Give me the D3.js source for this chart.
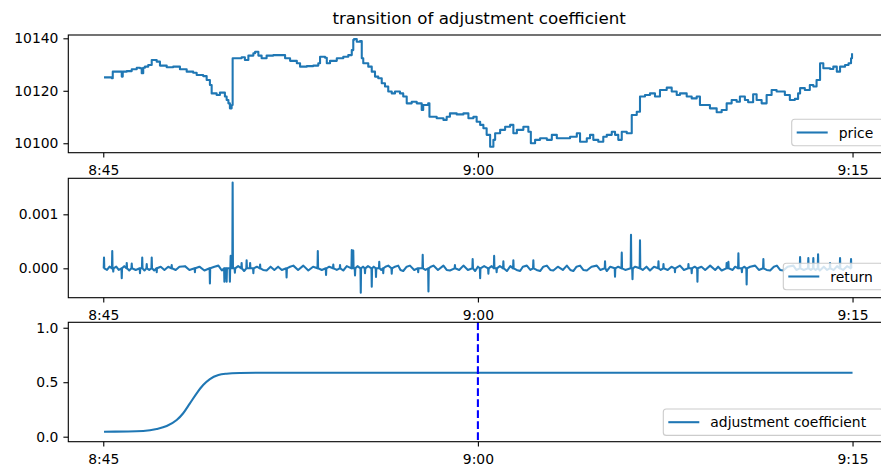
<!DOCTYPE html>
<html lang="en">
<head>
<meta charset="UTF-8" />
<title>transition of adjustment coefficient</title>
<script src="https://cdn.jsdelivr.net/npm/d3@7"></script>
<style>
  body { margin: 0; background: #fff; }
  svg { display: block; font-family: "DejaVu Sans", sans-serif; }
</style>
</head>
<body>
<svg id="vis" width="881" height="469"></svg>
<script>
// x axis: minutes after 8:45
const tickMinutes = [0, 15, 30];
const tickLabels = ["8:45", "9:00", "9:15"];

// price
const priceMinute = [
  0.03, 0.34, 0.38, 0.70, 0.74, 0.78, 0.94, 1.14, 1.34, 1.47, 1.54, 1.60, 1.67, 1.80, 1.94, 2.14, 2.27, 2.54, 2.80, 3.07,
  3.34, 3.60, 3.74, 4.00, 4.14, 4.27, 4.34, 4.54, 4.67, 4.81, 4.87, 4.94, 5.01, 5.07, 5.14, 5.18, 5.34, 5.54, 5.67, 5.81,
  6.01, 6.08, 6.21, 6.34, 6.54, 6.81, 7.08, 7.28, 7.48, 7.75, 7.88, 8.15, 8.41, 8.61, 8.68, 8.88, 8.95, 9.08, 9.35, 9.61,
  9.81, 9.95, 10.01, 10.04, 10.15, 10.28, 10.35, 10.41, 10.61, 10.75, 10.88, 11.01, 11.15, 11.28, 11.41, 11.55, 11.68, 11.88, 12.01, 12.15,
  12.35, 12.55, 12.75, 12.81, 13.01, 13.06, 13.35, 13.62, 13.75, 13.88, 14.15, 14.42, 14.62, 14.82, 14.95, 15.09, 15.22, 15.35, 15.49, 15.62,
  15.69, 15.89, 16.09, 16.29, 16.42, 16.56, 16.82, 17.02, 17.12, 17.29, 17.49, 17.76, 17.96, 18.16, 18.42, 18.69, 18.96, 19.09, 19.36, 19.49,
  19.62, 19.82, 20.02, 20.16, 20.36, 20.49, 20.62, 20.76, 20.96, 21.09, 21.16, 21.36, 21.49, 21.69, 21.89, 22.09, 22.29, 22.56, 22.76, 22.96,
  23.09, 23.36, 23.56, 23.76, 23.89, 24.09, 24.29, 24.56, 24.76, 24.96, 25.16, 25.36, 25.49, 25.69, 25.82, 26.02, 26.16, 26.36, 26.56, 26.76,
  26.96, 27.16, 27.29, 27.49, 27.69, 27.82, 27.90, 28.09, 28.29, 28.43, 28.56, 28.70, 28.83, 29.10, 29.23, 29.37, 29.50, 29.70, 29.84, 29.94,
  29.98
];
const price = [
  10125.1, 10124.8, 10127.3, 10127.3, 10125.4, 10127.3, 10127.5, 10128.2, 10128.8, 10128.6, 10126.7, 10128.8, 10129.2, 10129.8, 10131.7, 10131.1, 10129.6, 10129.0, 10129.2, 10128.2,
  10127.3, 10126.9, 10126.0, 10125.6, 10124.1, 10122.2, 10119.0, 10118.4, 10119.3, 10119.3, 10117.8, 10116.5, 10115.2, 10113.3, 10114.6, 10132.4, 10132.4, 10132.8, 10131.7, 10133.4,
  10134.3, 10134.9, 10133.4, 10132.4, 10133.4, 10133.6, 10133.6, 10132.4, 10131.4, 10130.5, 10129.2, 10129.4, 10129.6, 10130.5, 10133.0, 10132.6, 10130.5, 10131.4, 10132.4, 10133.0,
  10133.6, 10135.5, 10139.4, 10139.7, 10138.7, 10139.0, 10132.4, 10130.5, 10129.2, 10127.3, 10125.4, 10124.8, 10122.9, 10121.6, 10119.7, 10119.0, 10119.7, 10119.0, 10117.8, 10115.2,
  10115.8, 10115.2, 10112.7, 10114.6, 10115.2, 10110.1, 10109.5, 10108.9, 10110.1, 10111.4, 10111.0, 10111.4, 10109.5, 10110.1, 10108.2, 10107.0, 10105.7, 10103.2, 10098.7, 10101.3,
  10103.8, 10105.1, 10106.3, 10107.0, 10103.8, 10105.1, 10106.3, 10104.4, 10100.0, 10101.3, 10101.9, 10101.3, 10103.2, 10101.9, 10101.9, 10102.5, 10103.8, 10100.6, 10101.9, 10103.2,
  10101.3, 10100.6, 10102.5, 10103.2, 10104.4, 10103.2, 10101.3, 10104.4, 10103.8, 10103.8, 10110.8, 10112.0, 10117.8, 10118.4, 10119.0, 10117.8, 10120.3, 10121.2, 10119.7, 10118.4,
  10119.0, 10117.8, 10117.1, 10117.8, 10114.6, 10114.6, 10113.3, 10111.8, 10112.7, 10115.2, 10116.5, 10115.8, 10117.8, 10116.5, 10115.6, 10118.7, 10116.5, 10115.2, 10118.4, 10120.3,
  10119.7, 10119.7, 10118.4, 10116.5, 10116.9, 10119.0, 10121.0, 10120.3, 10122.2, 10121.6, 10124.1, 10130.5, 10128.6, 10128.3, 10129.2, 10127.3, 10129.2, 10129.8, 10130.5, 10132.4,
  10134.3
];

// return (middle panel)
const retMinute = [
  0.03, 0.15, 0.25, 0.36, 0.40, 0.52, 0.62, 0.74, 0.84, 0.94, 1.04, 1.14, 1.30, 1.47, 1.56, 1.65, 1.74, 1.84, 1.94, 2.04,
  2.14, 2.30, 2.45, 2.60, 2.74, 2.90, 3.05, 3.27, 3.45, 3.67, 3.85, 4.05, 4.27, 4.45, 4.61, 4.75, 4.85, 4.94, 5.07, 5.10,
  5.18, 5.27, 5.40, 5.54, 5.64, 5.74, 5.88, 6.01, 6.15, 6.28, 6.40, 6.54, 6.70, 6.85, 7.00, 7.15, 7.34, 7.48, 7.61, 7.80,
  8.01, 8.21, 8.40, 8.59, 8.75, 8.92, 9.05, 9.21, 9.35, 9.48, 9.61, 9.75, 9.95, 10.01, 10.08, 10.18, 10.31, 10.40, 10.48, 10.60,
  10.75, 10.83, 10.92, 11.05, 11.13, 11.21, 11.30, 11.41, 11.55, 11.68, 11.81, 11.90, 12.01, 12.15, 12.28, 12.45, 12.61, 12.79, 12.90, 13.02,
  13.12, 13.22, 13.40, 13.62, 13.75, 13.88, 14.08, 14.25, 14.42, 14.60, 14.79, 14.89, 15.00, 15.09, 15.25, 15.42, 15.55, 15.65, 15.75, 15.88,
  16.02, 16.16, 16.30, 16.42, 16.55, 16.69, 16.80, 16.96, 17.10, 17.22, 17.35, 17.49, 17.62, 17.76, 17.90, 18.02, 18.20, 18.40, 18.56, 18.70,
  18.82, 18.95, 19.09, 19.22, 19.36, 19.55, 19.76, 19.90, 20.09, 20.16, 20.30, 20.49, 20.62, 20.76, 20.90, 21.13, 21.19, 21.30, 21.49, 21.60,
  21.75, 21.89, 22.05, 22.23, 22.32, 22.43, 22.60, 22.75, 22.89, 23.09, 23.25, 23.43, 23.56, 23.68, 23.79, 23.95, 24.10, 24.30, 24.50, 24.62,
  24.76, 24.96, 25.03, 25.20, 25.30, 25.43, 25.57, 25.66, 25.76, 25.90, 26.10, 26.25, 26.43, 26.56, 26.70, 26.85, 26.97, 27.10, 27.23, 27.40,
  27.63, 27.75, 27.90, 28.05, 28.23, 28.33, 28.43, 28.52, 28.62, 28.69, 28.85, 28.98, 29.10, 29.25, 29.38, 29.50, 29.62, 29.78, 29.94
];
const retValue = [
  2.0e-4, -0.3e-4, 0.3e-4, 3.2e-4, -0.6e-4, 0.3e-4, -0.3e-4, -1.85e-4, 0.4e-4, 1.0e-4, -0.4e-4, 0.9e-4, -0.3e-4, -0.9e-4, 2.0e-4, -0.4e-4, 0.8e-4, -0.3e-4, 2.0e-4, -0.4e-4,
  -0.7e-4, 0.3e-4, -0.3e-4, 0.3e-4, 0.6e-4, -0.3e-4, 0.3e-4, 0.4e-4, -0.3e-4, -0.7e-4, 0.3e-4, -0.4e-4, -2.8e-4, 0.3e-4, 0.5e-4, -0.4e-4, -2.5e-4, -2.5e-4, -2.5e-4, 2.3e-4,
  15.9e-4, -0.8e-4, 0.4e-4, 1.0e-4, -0.5e-4, 1.5e-4, 1.0e-4, -0.9e-4, 0.3e-4, 0.7e-4, -0.3e-4, -0.4e-4, 0.3e-4, -0.3e-4, 0.3e-4, -0.3e-4, -1.7e-4, 0.3e-4, 0.5e-4, -0.3e-4,
  0.5e-4, -0.4e-4, 0.3e-4, 3.2e-4, -0.3e-4, -1.25e-4, 0.3e-4, 0.7e-4, -0.3e-4, 0.6e-4, -0.4e-4, 0.4e-4, 3.4e-4, 3.3e-4, -1.3e-4, 0.4e-4, -4.5e-4, 0.3e-4, -0.9e-4, 0.4e-4,
  -3.4e-4, 0.3e-4, -1.6e-4, 1.2e-4, -0.3e-4, -0.9e-4, 0.3e-4, 0.5e-4, -1.0e-4, 0.3e-4, 0.5e-4, -0.3e-4, -0.5e-4, 0.3e-4, 0.5e-4, -0.3e-4, -0.7e-4, 2.5e-4, -0.3e-4, -4.3e-4,
  0.3e-4, 0.5e-4, -0.3e-4, 0.5e-4, -0.3e-4, -0.4e-4, 0.6e-4, -0.3e-4, 0.5e-4, -0.3e-4, 1.7e-4, -0.5e-4, 0.3e-4, -1.85e-4, 0.4e-4, -1.0e-4, 0.4e-4, 2.3e-4, -0.7e-4, 0.4e-4,
  1.3e-4, -0.5e-4, 0.4e-4, 1.5e-4, -0.3e-4, -0.5e-4, 0.3e-4, 0.5e-4, -0.3e-4, 1.5e-4, -0.3e-4, -0.5e-4, 0.3e-4, 0.5e-4, -0.3e-4, -0.4e-4, 0.3e-4, -0.3e-4, 0.5e-4, -0.3e-4,
  -0.5e-4, 0.3e-4, 0.5e-4, -0.3e-4, -0.4e-4, 0.3e-4, 0.5e-4, -0.3e-4, 1.3e-4, -0.5e-4, 0.3e-4, -1.55e-4, 0.3e-4, 2.9e-4, -0.3e-4, 6.2e-4, -2.0e-4, 0.3e-4, 5.2e-4, -0.3e-4,
  0.3e-4, -0.4e-4, 0.3e-4, 1.3e-4, -0.3e-4, 0.8e-4, -0.3e-4, 0.3e-4, -0.7e-4, 0.5e-4, -0.3e-4, 0.8e-4, -0.9e-4, 0.3e-4, -2.5e-4, 0.3e-4, -0.3e-4, 0.5e-4, -0.3e-4, 0.3e-4,
  -0.4e-4, 1.0e-4, 1.2e-4, -0.3e-4, 0.3e-4, 2.8e-4, -0.7e-4, 0.3e-4, -3.0e-4, 0.3e-4, 0.5e-4, -0.3e-4, 1.7e-4, -0.3e-4, -0.4e-4, 0.3e-4, 0.5e-4, -0.3e-4, -0.4e-4, 0.3e-4,
  0.5e-4, -0.3e-4, 2.1e-4, -0.3e-4, 1.9e-4, -0.3e-4, 1.9e-4, -0.3e-4, 2.6e-4, -0.4e-4, 0.3e-4, -0.3e-4, 1.0e-4, -0.3e-4, 0.4e-4, 1.9e-4, -0.3e-4, 0.4e-4, 1.7e-4
];

// adjustment coefficient (bottom panel)
const adjMinute = [0.03, 1.0, 1.6, 2.14, 2.54, 2.94, 3.20, 3.47, 3.74, 4.00, 4.27, 4.61, 4.94, 5.47, 6.5, 10, 20, 30];
const adjValue = [0.046, 0.047, 0.052, 0.071, 0.098, 0.153, 0.215, 0.306, 0.398, 0.474, 0.529, 0.566, 0.578, 0.584, 0.587, 0.587, 0.587, 0.587];
const markerMinute = 15;

const blue = "#1f77b4";
const fontSize = 13.9;
const left = 68.3, right = 890;

let svg = d3.select("#vis");

let scaleX = d3.scaleLinear().domain([-1.4, 31.5]).range([left, right]);

svg.append("text")
  .attr("x", (left + right) / 2)
  .attr("y", 24)
  .attr("text-anchor", "middle")
  .attr("font-size", 16.7)
  .text("transition of adjustment coefficient");

// one panel = axes + ticks, returns its y scale
function panel(top, bottom, domain, ticks, fmt) {
  let scaleY = d3.scaleLinear().domain(domain).range([bottom, top]);
  let g = svg.append("g");

  let xAxis = d3.axisBottom(scaleX).tickValues(tickMinutes)
    .tickFormat((d, i) => tickLabels[i]).tickSize(4.9).tickPadding(8);
  let yAxis = d3.axisLeft(scaleY).tickValues(ticks).tickFormat(fmt)
    .tickSize(4.9).tickPadding(5);

  let gx = g.append("g").attr("transform", `translate(0,${bottom})`).call(xAxis);
  let gy = g.append("g").attr("transform", `translate(${left},0)`).call(yAxis);
  for (let a of [gx, gy]) {
    a.select(".domain").remove();
    a.attr("font-family", null).attr("font-size", fontSize);
    a.selectAll("line").attr("stroke", "#000").attr("stroke-width", 1.1);
    a.selectAll("text").attr("fill", "#000");
  }
  return { g, scaleY, top, bottom };
}

function frame(p) {
  p.g.append("rect")
    .attr("x", left).attr("y", p.top)
    .attr("width", right - left).attr("height", p.bottom - p.top)
    .attr("fill", "none").attr("stroke", "#000").attr("stroke-width", 1.1);
}

function legend(p, x, y, label) {
  let h = 26.4;
  let lg = p.g.append("g");
  lg.append("rect")
    .attr("x", x).attr("y", y).attr("width", right - 7 - x).attr("height", h)
    .attr("rx", 3)
    .attr("fill", "#fff").attr("fill-opacity", 0.8)
    .attr("stroke", "#cccccc").attr("stroke-width", 1.1);
  lg.append("line")
    .attr("x1", x + 5).attr("x2", x + 36)
    .attr("y1", y + h / 2).attr("y2", y + h / 2)
    .attr("stroke", blue).attr("stroke-width", 2.08);
  lg.append("text")
    .attr("x", x + 47).attr("y", y + h / 2 + 5)
    .attr("font-size", fontSize)
    .text(label);
}

// price
let p1 = panel(35, 152.7, [10096.4, 10141.26], [10100, 10120, 10140], d3.format("d"));
p1.g.append("path")
  .datum(priceMinute.map((t, i) => [t, price[i]]))
  .attr("fill", "none").attr("stroke", blue).attr("stroke-width", 2.08)
  .attr("stroke-linejoin", "round")
  .attr("d", d3.line().curve(d3.curveStepAfter).x(d => scaleX(d[0])).y(d => p1.scaleY(d[1])));
frame(p1);
legend(p1, 791.7, 119.3, "price");

// return : big moves drawn as thin vertical strokes, small ones left as a zigzag band
let p2 = panel(178.3, 297.7, [-0.000544, 0.001667], [0, 0.001], d3.format(".3f"));
let retPts = [];
retMinute.forEach((t, i) => {
  let v = retValue[i];
  if (Math.abs(v) >= 0.6e-4) retPts.push([t - 0.012, 0], [t, v], [t + 0.012, 0]);
  else retPts.push([t, v]);
});
p2.g.append("path")
  .datum(retPts)
  .attr("fill", "none").attr("stroke", blue).attr("stroke-width", 2.08)
  .attr("stroke-linejoin", "round")
  .attr("d", d3.line().x(d => scaleX(d[0])).y(d => p2.scaleY(d[1])));
frame(p2);
legend(p2, 783.3, 263.3, "return");

// adjustment coefficient
let p3 = panel(322.3, 441.7, [-0.046, 1.05], [0, 0.5, 1], d3.format(".1f"));
p3.g.append("path")
  .datum(adjMinute.map((t, i) => [t, adjValue[i]]))
  .attr("fill", "none").attr("stroke", blue).attr("stroke-width", 2.08)
  .attr("d", d3.line().curve(d3.curveMonotoneX).x(d => scaleX(d[0])).y(d => p3.scaleY(d[1])));
p3.g.append("line")
  .attr("x1", scaleX(markerMinute)).attr("x2", scaleX(markerMinute))
  .attr("y1", p3.top).attr("y2", p3.bottom)
  .attr("stroke", "#0000ff").attr("stroke-width", 2.08)
  .attr("stroke-dasharray", "7.7,3.3");
frame(p3);
legend(p3, 663.3, 409, "adjustment coefficient");
</script>
</body>
</html>
